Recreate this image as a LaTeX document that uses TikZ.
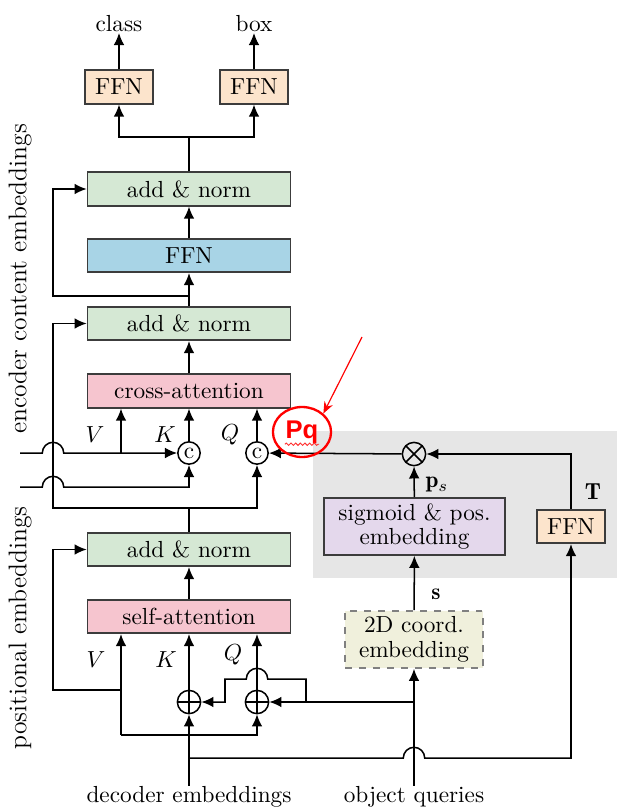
\documentclass[tikz,border=0pt]{standalone}
\usepackage{amsmath}
\usepackage{fontspec}
\newfontfamily\pqfont{Liberation Sans}
\usetikzlibrary{positioning, arrows.meta, shapes.geometric, decorations.pathmorphing}
\definecolor{normgreen}{HTML}{D5E8D4}
\definecolor{ffnblue}{HTML}{A8D4E6}
\definecolor{attnpink}{HTML}{F6C5CF}
\definecolor{ffnorange}{HTML}{FCE4CC}
\definecolor{sigpurple}{HTML}{E4D8EC}
\definecolor{coordyellow}{HTML}{F0F0DC}
\definecolor{boxgray}{HTML}{E6E6E6}
\definecolor{edgegray}{HTML}{3C3C3C}
\tikzset{
  >={Latex[length=5.2pt, width=4.6pt]}, % filled arrow heads
  block/.style={draw=edgegray, line width=0.7pt, inner sep=0pt, minimum width=87.3pt, minimum height=14.4pt}, % boxes of the main column
  smallblock/.style={block, minimum width=29.2pt}, % the little FFN boxes
  tallblock/.style={block, align=center, minimum height=24.5pt}, % two line boxes
  lbl/.style={inner sep=0pt}, % plain texts
  cnode/.style={circle, draw, inner sep=0pt, minimum size=9.6pt}, % concatenation
  plusnode/.style={circle, draw, inner sep=0pt, minimum size=10pt,
    path picture={\draw (path picture bounding box.north) -- (path picture bounding box.south)
      (path picture bounding box.west) -- (path picture bounding box.east);}},
  timesnode/.style={circle, draw, inner sep=0pt, minimum size=10pt,
    path picture={\draw (path picture bounding box.north west) -- (path picture bounding box.south east)
      (path picture bounding box.north east) -- (path picture bounding box.south west);}},
}

\begin{document}
\begin{tikzpicture}[x=0.43pt, y=-0.43pt, line width=0.65pt]
  \useasboundingbox (0,0) rectangle (627,807);
  % grey panel behind the query position branch
  \fill[boxgray] (313,431) rectangle (617,578);

  % decoder column
  \node[block, fill=normgreen] (an3) at (189,189) {add \& norm};
  \node[block, fill=ffnblue] (ffn) at (189,255.5) {FFN};
  \node[block, fill=normgreen] (an2) at (189,323.5) {add \& norm};
  \node[block, fill=attnpink] (ca) at (189,391) {cross-attention};
  \node[block, fill=normgreen] (an1) at (189,549.5) {add \& norm};
  \node[block, fill=attnpink] (sa) at (189,616.5) {self-attention};

  % heads
  \node[smallblock, fill=ffnorange] (clsffn) at (119,87) {FFN};
  \node[smallblock, fill=ffnorange] (boxffn) at (254,87) {FFN};
  \node[lbl] (cls) at (119,24) {class};
  \node[lbl] (boxlbl) at (254,24) {box};

  % combining nodes
  \node[cnode] (cK) at (189,453) {c};
  \node[cnode] (cQ) at (257,453) {c};
  \node[plusnode] (pK) at (189,702) {};
  \node[plusnode] (pQ) at (257,702) {};
  \node[timesnode] (otimes) at (414,454) {};

  % query position branch
  \node[tallblock, fill=sigpurple, minimum width=77.8pt] (sig) at (414.5,526.5) {sigmoid \& pos.\\[-1.5pt] embedding};
  \node[smallblock, fill=ffnorange] (tffn) at (571,526.5) {FFN};
  \node[tallblock, fill=coordyellow, draw=gray, dashed, minimum width=59.3pt] (coord) at (414,639.5) {2D coord.\\[-1pt] embedding};

  % inputs and side labels
  \node[lbl] (dec) at (189,797) {decoder embeddings};
  \node[lbl] (obj) at (414,797) {object queries};
  \node[lbl, rotate=90, font=\fontsize{11}{13}\selectfont] (enclbl) at (20,279) {encoder content embeddings};
  \node[lbl, rotate=90, font=\fontsize{11}{13}\selectfont] (poslbl) at (20,628) {positional embeddings};
  \node[lbl] at (95,435) {$V$};
  \node[lbl] at (165,435) {$K$};
  \node[lbl] at (230,435) {$Q$};
  \node[lbl] at (96,660) {$V$};
  \node[lbl] at (166,660) {$K$};
  \node[lbl] at (233,655) {$Q$};
  \node[lbl] at (437,485) {$\mathbf{p}_s$};
  \node[lbl] at (593,492) {$\mathbf{T}$};
  \node[lbl] at (436,594) {$\mathbf{s}$};

  \coordinate (split) at (189,137);
  \coordinate (r3) at (189,296);
  \coordinate (q0) at (189,508);
  \coordinate (encin) at (20,453);
  \coordinate (posin) at (20,487);
  \coordinate (vtap) at (121,453);
  \coordinate (vsplit) at (121,690);
  \coordinate (vbase) at (121,735);
  \coordinate (otap) at (414,702);
  \coordinate (detour) at (306,702);
  \coordinate (bsplit) at (189,758);

  % main column
  \draw (an3.north) -- (split);
  \draw[->] (split) -| (clsffn.south);
  \draw[->] (split) -| (boxffn.south);
  \draw[->] (clsffn) -- (cls);
  \draw[->] (boxffn) -- (boxlbl);
  \draw[->] (ffn) -- (an3);
  \draw[->] (an2) -- (ffn);
  \draw[->] (ca) -- (an2);
  \draw[->] (r3) -- (53,296) |- (an3.west);
  \draw (an1.north) -- (q0);
  \draw[->] (q0) -- (53,508) |- (an2.west);
  \draw[->] (q0) -| (cQ.south);

  % cross-attention inputs
  \draw[->] (encin) -- (42.3,453) arc[start angle=180, end angle=0, radius=4.6pt] -- (cK.west);
  \draw[->] (vtap) -- (vtap |- ca.south);
  \draw[->] (posin) -- (42.3,487) arc[start angle=180, end angle=0, radius=4.6pt] -- (cK.south |- posin) -- (cK.south);
  \draw[->] (cK) -- (cK |- ca.south);
  \draw[->] (cQ) -- (cQ |- ca.south);
  \draw[->] (otimes) -- (cQ);
  \draw[->] (tffn.north) |- (otimes);
  \draw[->] (sig) -- (otimes);
  \draw[->] (coord) -- (sig);

  % self-attention inputs
  \draw[->] (sa) -- (an1);
  \draw[->] (vsplit) -- (53,690) |- (an1.west);
  \draw[->] (dec.north) -- (pK);
  \draw[->] (pK) -- (pK |- sa.south);
  \draw[->] (pQ) -- (pQ |- sa.south);
  \draw[->] (vbase) -- (vbase |- sa.south);
  \draw[->] (vbase) -| (pQ.south);
  \draw[->] (obj.north) -- (coord.south);
  \draw[->] (otap) -- (pQ.east);
  \draw[->] (detour) -- (306,679) -- (267.7,679) arc[start angle=0, end angle=180, radius=4.6pt] -- (225,679) -- (225,702) -- (pK.east);
  \draw[->] (bsplit) -- (403.3,758) arc[start angle=180, end angle=0, radius=4.6pt] -- (571,758) -- (tffn.south);

  % red note
  \node[ellipse, draw=red, line width=1pt, inner sep=0pt, minimum width=25pt, minimum height=21.5pt] (pq) at (302,432) {};
  \node[lbl, text=red, font=\pqfont\bfseries\fontsize{11}{13}\selectfont] (pqtext) at (pq) {Pq};
  \draw[red!80, line width=0.4pt, decorate, decoration={snake, amplitude=0.5pt, segment length=2pt}] (pqtext.south west) -- (pqtext.south east);
  \coordinate (pqtail) at (362,337);
  \draw[red, line width=0.5pt, -{Stealth[length=5pt, width=4pt]}] (pqtail) -- (pq.north east);
\end{tikzpicture}
\end{document}
